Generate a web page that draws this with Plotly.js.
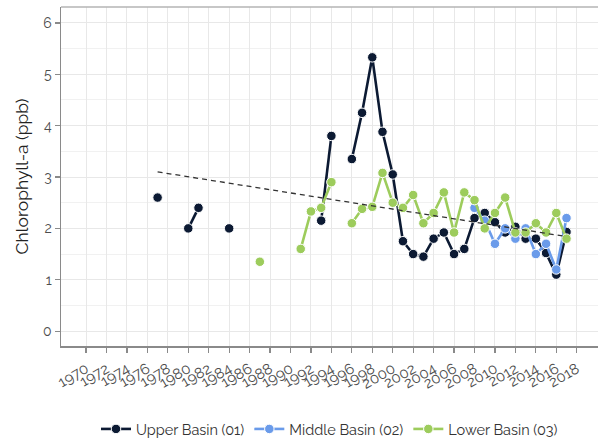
<!DOCTYPE html>
<html>
<head>
<meta charset="utf-8">
<script src="https://cdn.plot.ly/plotly-3.0.1.min.js"></script>
<style>html,body{margin:0;padding:0;background:#fff;}#chart{width:598px;height:440px;}</style>
</head>
<body>
<div id="chart"></div>
<script>
// Upper Basin (01)
var upperYears  = [1977, 1978, 1980, 1981, 1982, 1984, 1985, 1993, 1994, 1995, 1996, 1997, 1998, 1999, 2000, 2001, 2002, 2003, 2004, 2005, 2006, 2007, 2008, 2009, 2010, 2011, 2012, 2013, 2014, 2015, 2016, 2017];
var upperValues = [2.6, null, 2.0, 2.4, null, 2.0, null, 2.15, 3.8, null, 3.35, 4.25, 5.33, 3.88, 3.05, 1.75, 1.5, 1.45, 1.8, 1.92, 1.5, 1.6, 2.2, 2.3, 2.12, 1.92, 2.03, 1.8, 1.8, 1.52, 1.1, 1.93];
// Middle Basin (02)
var middleYears  = [2008, 2009, 2010, 2011, 2012, 2013, 2014, 2015, 2016, 2017];
var middleValues = [2.4, 2.15, 1.7, 2.0, 1.8, 2.0, 1.5, 1.7, 1.2, 2.2];
// Lower Basin (03)
var lowerYears  = [1987, 1988, 1991, 1992, 1993, 1994, 1995, 1996, 1997, 1998, 1999, 2000, 2001, 2002, 2003, 2004, 2005, 2006, 2007, 2008, 2009, 2010, 2011, 2012, 2013, 2014, 2015, 2016, 2017];
var lowerValues = [1.35, null, 1.6, 2.33, 2.4, 2.9, null, 2.1, 2.38, 2.42, 3.08, 2.5, 2.4, 2.65, 2.1, 2.3, 2.7, 1.92, 2.7, 2.55, 2.0, 2.3, 2.6, 1.92, 1.92, 2.1, 1.92, 2.3, 1.8];
// Trend line
var trendYears  = [1977, 2017];
var trendValues = [3.1, 1.84];
// Tick labels
var xTickYears = [];
for (var y = 1970; y <= 2018; y += 2) xTickYears.push(y);
var yTicks = [0, 1, 2, 3, 4, 5, 6];

var seriesNames = ['Upper Basin (01)', 'Middle Basin (02)', 'Lower Basin (03)'];
var seriesColors = ['#0c1a33', '#6a9bea', '#9dcc5c'];

function series(x, y, i) {
  return {
    x: x, y: y, type: 'scatter', mode: 'lines+markers', name: seriesNames[i],
    connectgaps: false,
    line: {color: seriesColors[i], width: 2.6},
    marker: {color: seriesColors[i], size: 9.5, line: {color: '#ffffff', width: 1}}
  };
}

var traces = [
  series(upperYears, upperValues, 0),
  series(middleYears, middleValues, 1),
  series(lowerYears, lowerValues, 2),
  {x: trendYears, y: trendValues, type: 'scatter', mode: 'lines', showlegend: false,
   line: {color: '#333333', width: 1.3, dash: '5px,4px'}, hoverinfo: 'skip'}
];

var layout = {
  width: 598, height: 440,
  margin: {l: 61, r: 0, t: 7, b: 94, autoexpand: false},
  paper_bgcolor: '#ffffff', plot_bgcolor: '#ffffff',
  font: {family: 'Raleway, Lato, sans-serif', color: '#4d4d4d'},
  showlegend: true,
  legend: {orientation: 'h', x: 0.5, xanchor: 'center', y: 0.025, yref: 'container', yanchor: 'middle',
           font: {size: 14.5, color: '#333333'}, itemwidth: 30, tracegroupgap: 0},
  xaxis: {
    range: [1967.55, 2020.08],
    tickmode: 'array', tickvals: xTickYears, ticktext: xTickYears.map(String),
    tickangle: -30, tickfont: {size: 15, color: '#4d4d4d'}, ticklabelstandoff: 2,
    showgrid: true, gridcolor: '#e8e8e8', gridwidth: 1,
    zeroline: false, showline: true, linecolor: '#8a8a8a', linewidth: 1.5,
    ticks: 'outside', ticklen: 5, tickcolor: '#8a8a8a', tickwidth: 1.2
  },
  yaxis: {
    range: [-0.29, 6.31],
    tickmode: 'array', tickvals: yTicks, ticktext: yTicks.map(String),
    tickfont: {size: 14, color: '#4d4d4d'},
    showgrid: true, gridcolor: '#e8e8e8', gridwidth: 1,
    minor: {dtick: 0.5, showgrid: true, gridcolor: '#f1f1f1', gridwidth: 1},
    zeroline: false, showline: true, linecolor: '#8a8a8a', linewidth: 1.5,
    ticks: 'outside', ticklen: 5, tickcolor: '#8a8a8a', tickwidth: 1.2,
    title: {text: 'Chlorophyll-a (ppb)', font: {size: 17.5, color: '#222222'}, standoff: 10}
  },
  shapes: [
    {type: 'line', xref: 'paper', yref: 'paper', x0: 0, x1: 1, y0: 1, y1: 1,
     line: {color: '#b5b5b5', width: 1.5}}
  ]
};

Plotly.newPlot('chart', traces, layout, {displayModeBar: false, staticPlot: true});
</script>
</body>
</html>
